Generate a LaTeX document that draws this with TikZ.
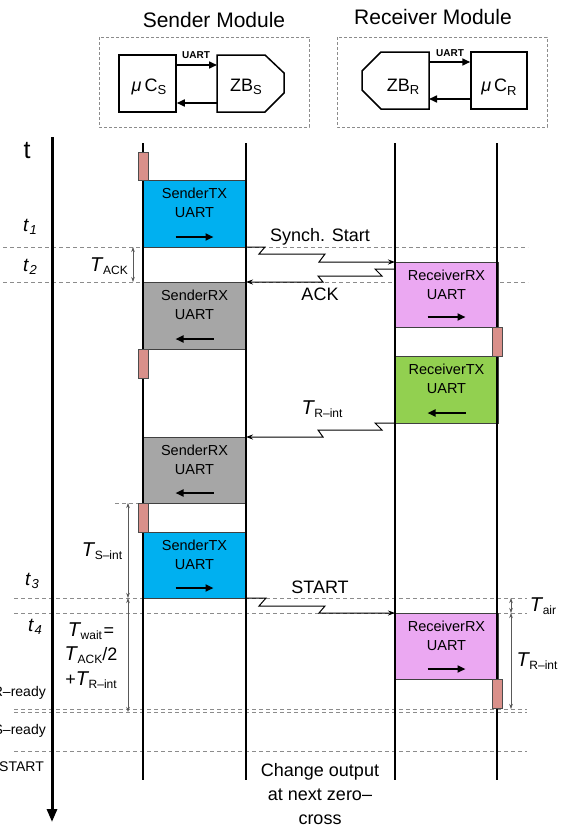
\documentclass[tikz,border=0pt]{standalone}
\usepackage{fontspec}
\setmainfont{Liberation Sans}
\usetikzlibrary{arrows.meta,calc}
\definecolor{txcyan}{HTML}{00B0F0}
\definecolor{rxgray}{HTML}{A6A6A6}
\definecolor{rxpink}{HTML}{EBA8F2}
\definecolor{txgreen}{HTML}{92D050}
\definecolor{procred}{HTML}{D9908A}
\definecolor{dashgray}{HTML}{8C8C8C}
\newcommand\fs[1]{\fontsize{#1}{#1}\selectfont}
\newcommand\lowsub[2][12]{\raisebox{-3.5pt}{\fs{#1}#2}}
\newcommand\Tsub[1]{{\fs{20}\textit{T}}\kern-0.5pt\lowsub{#1}}
\newcommand\tsub[1]{{\fs{19}\textit{t}}\kern0.5pt\lowsub[13]{\textit{#1}}}
\newcommand\uartbox[7]{%
  \node[ubox, fill=#2, minimum height={#5-#4}, anchor=north west] (#1) at (#3,#4) {};
  \node[utext] at ($(#1.north)+(0,13.5)$) {#6};
  \node[utext] at ($(#1.north)+(0,32.5)$) {UART};
  \draw[uarr] ($(#1.south)+({-19*(#7)},-10)$) -- ($(#1.south)+({19*(#7)},-10)$);
}
\begin{document}
\begin{tikzpicture}[x=1pt,y=-1pt,
  life/.style={line width=2pt},
  gridline/.style={dashgray, line width=0.6pt, dash pattern=on 4pt off 3pt},
  ubox/.style={draw=black!75, line width=0.8pt, minimum width=103pt, inner sep=0pt, outer sep=0pt},
  utext/.style={font=\fs{14.5}, inner sep=0pt},
  uarr/.style={line width=2pt, -{Triangle[length=8pt,width=7pt]}},
  proc/.style={draw=black!70, fill=procred, line width=0.8pt, minimum width=10pt, inner sep=0pt, outer sep=0pt, anchor=north},
  msg/.style={line width=1pt, -{Stealth[length=7pt,width=5pt]}},
  dimarr/.style={line width=0.5pt, black!65, {Stealth[length=5pt,width=3.5pt]}-{Stealth[length=5pt,width=3.5pt]}},
  lab/.style={font=\fs{18}, inner sep=0pt},
  modbox/.style={draw, line width=1.5pt},
  modarr/.style={line width=1.6pt, -{Triangle[length=8pt,width=7pt]}},
  modframe/.style={dashgray, line width=0.6pt, dash pattern=on 3pt off 2pt},
]
\useasboundingbox (0,0) rectangle (567,827);
\clip (0,0) rectangle (567,827);
\fill[white] (0,0) rectangle (567,827);

% ---------- modules ----------
\node[font=\fs{21}, inner sep=0pt] (sendtitle) at (214,20) {Sender Module};
\node[font=\fs{21}, inner sep=0pt] (rectitle) at (433,17) {Receiver Module};
\draw[modframe] (99,37) rectangle (309,127);
\draw[modframe] (337,37) rectangle (547,127);

\node[modbox, minimum width=57pt, minimum height=57pt, inner sep=0pt] (mcs) at (147.5,83.5) {};
\node[font=\fs{18}, inner sep=0pt] at (149,87) {\textit{μ}\,C\lowsub[13]{S}};
\draw[modbox, line join=miter] (217,55) -- (265,55) -- (284,73) -- (284,93) -- (265,112) -- (217,112) -- cycle;
\coordinate (zbsW) at (217,83.5);
\node[font=\fs{18}, inner sep=0pt] (zbs) at (246,87) {ZB\lowsub[13]{S}};
\draw[modarr] ([yshift=18.5pt]mcs.east) -- ([yshift=18.5pt]zbsW);
\draw[modarr] ([yshift=-19.5pt]zbsW) -- ([yshift=-19.5pt]mcs.east);
\node[font=\bfseries\fs{10}, inner sep=0pt] at (196,55) {UART};

\node[modbox, minimum width=56pt, minimum height=57pt, inner sep=0pt] (mcr) at (499,80.5) {};
\node[font=\fs{18}, inner sep=0pt] at (499,87) {\textit{μ}\,C\lowsub[13]{R}};
\draw[modbox, line join=miter] (381,52) -- (429,52) -- (429,109) -- (381,109) -- (362,90) -- (362,71) -- cycle;
\coordinate (zbrE) at (429,80.5);
\node[font=\fs{18}, inner sep=0pt] (zbr) at (403,87) {ZB\lowsub[13]{R}};
\draw[modarr] ([yshift=18.5pt]zbrE) -- ([yshift=18.5pt]mcr.west);
\draw[modarr] ([yshift=-18.5pt]mcr.west) -- ([yshift=-18.5pt]zbrE);
\node[font=\bfseries\fs{10}, inner sep=0pt] at (450,53) {UART};

% ---------- grid lines ----------
\draw[gridline] (3,247) -- (528,247);
\draw[gridline] (3,282) -- (528,282);
\draw[gridline] (115,503) -- (143,503);
\draw[gridline] (14,598) -- (527,598);
\draw[gridline] (14,613) -- (527,613);
\draw[gridline] (14,709) -- (527,709);
\draw[gridline] (14,712) -- (527,712);
\draw[gridline] (14,751) -- (527,751);

% ---------- activity boxes ----------
\uartbox{tx1}{txcyan}{143}{180}{247}{SenderTX}{1}
\uartbox{rx1}{rxgray}{143}{282}{349}{SenderRX}{-1}
\uartbox{rx2}{rxgray}{143}{437}{503}{SenderRX}{-1}
\uartbox{tx2}{txcyan}{143}{532}{598}{SenderTX}{1}
\uartbox{rrx1}{rxpink}{395}{262}{327}{ReceiverRX}{1}
\uartbox{rtx1}{txgreen}{395}{356}{423}{ReceiverTX}{-1}
\uartbox{rrx2}{rxpink}{395}{613}{679}{ReceiverRX}{1}

% ---------- lifelines ----------
\coordinate (slt) at (143,143); \coordinate (slb) at (143,780);
\coordinate (srt) at (246,143); \coordinate (srb) at (246,780);
\coordinate (rlt) at (395,143); \coordinate (rlb) at (395,780);
\coordinate (rrt) at (497,143); \coordinate (rrb) at (497,780);
\draw[life] (slt) -- (slb);
\draw[life] (srt) -- (srb);
\draw[life] (rlt) -- (rlb);
\draw[life] (rrt) -- (rrb);
\coordinate (axt) at (52,137); \coordinate (axb) at (52,822);
\draw[line width=3pt, -{Triangle[length=13pt,width=10pt]}] (axt) -- (axb);

% ---------- processing boxes ----------
\node[proc, minimum height=28pt] (p1) at (143,152) {};
\node[proc, minimum height=29pt] (p2) at (143,349) {};
\node[proc, minimum height=29pt] (p3) at (143,503) {};
\node[proc, minimum height=29pt] (p4) at (497,327) {};
\node[proc, minimum height=29pt] (p5) at (497,679) {};

% ---------- messages ----------
\draw[msg] (tx1.south east) -- ++(19,0) -- ++(-6,7) -- ++(66,0) -- ++(-6,8) -- (rrx1.north west);
\coordinate (ackS) at ($(rrx1.north west)+(0,7)$);
\draw[msg] (ackS) -- ++(-20,0) -- ++(7,7) -- ++(-64,0) -- ++(5,6) -- (rx1.north east);
\draw[msg] (rtx1.south west) -- ++(-20,0) -- ++(7,7) -- ++(-64,0) -- ++(5,7) -- (rx2.north east);
\draw[msg] (tx2.south east) -- ++(20,0) -- ++(-7,8) -- ++(66,0) -- ++(-6,7) -- (rrx2.north west);
\node[lab] at (320,237) {Synch. Start};
\node[lab] at (320,294) {ACK};
\node[inner sep=0pt] at (322,409) {\Tsub{R–int}};
\node[lab] at (320,587) {START};

% ---------- dimension arrows ----------
\coordinate (dA1) at (133,247); \coordinate (dA2) at (133,282);
\draw[dimarr] (dA1) -- (dA2);
\coordinate (dS1) at (128,503); \coordinate (dS2) at (128,598); \coordinate (dS3) at (128,712);
\draw[dimarr] (dS1) -- (dS2);
\draw[dimarr] (dS2) -- (dS3);
\coordinate (dR1) at (511,598); \coordinate (dR2) at (511,613); \coordinate (dR3) at (511,709);
\draw[dimarr] (dR1) -- (dR2);
\draw[dimarr] (dR2) -- (dR3);

% ---------- left labels ----------
\node[font=\fs{25}, inner sep=0pt] at (27,151) {t};
\node[inner sep=0pt] at (30,227) {\tsub{1}};
\node[inner sep=0pt] at (30,267) {\tsub{2}};
\node[inner sep=0pt] at (32,581) {\tsub{3}};
\node[inner sep=0pt] at (35,627) {\tsub{4}};
\node[inner sep=0pt] at (109,266) {\Tsub{ACK}};
\node[inner sep=0pt] at (102,551) {\Tsub{S–int}};
\node[inner sep=0pt] at (91,631) {\Tsub{wait}\,{\fs{18}=}};
\node[inner sep=0pt] at (91,655) {\Tsub{ACK}{\fs{18}/2}};
\node[inner sep=0pt] at (91,680) {{\fs{18}+}\Tsub{R–int}};
\node[inner sep=0pt, anchor=east] at (46,690) {{\fs{19}\textit{t}}\lowsub[14]{R–ready}};
\node[inner sep=0pt, anchor=east] at (46,728) {{\fs{19}\textit{t}}\lowsub[14]{S–ready}};
\node[inner sep=0pt, anchor=east] at (44,764) {{\fs{19}\textit{t}}\lowsub[14]{START}};

% ---------- right labels ----------
\node[inner sep=0pt] at (543,606) {\Tsub{air}};
\node[inner sep=0pt] at (537,661) {\Tsub{R–int}};

% ---------- bottom note ----------
\node[font={\fontsize{18}{24}\selectfont}, align=center, inner sep=0pt] (note) at (320,794) {Change output\\at next zero–\\cross};
\end{tikzpicture}
\end{document}
